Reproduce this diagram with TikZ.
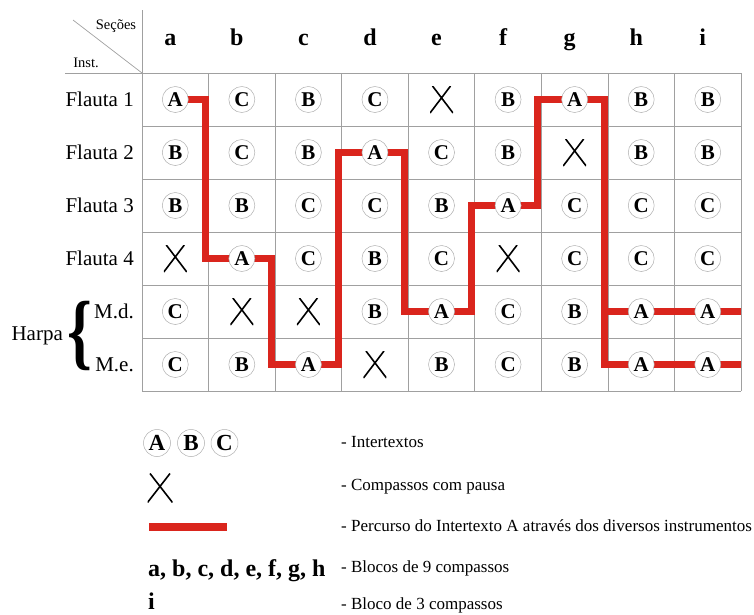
\documentclass[tikz,border=0pt]{standalone}
\usepackage{fontspec}
\setmainfont{Liberation Serif}
\usepackage{graphicx}
\usepackage{tikz}
\usetikzlibrary{positioning}
\definecolor{pathred}{RGB}{218,37,29}
\definecolor{linegray}{RGB}{160,160,160}
\definecolor{ringgray}{RGB}{175,175,175}
\pgfdeclarelayer{background}
\pgfsetlayers{background,main}
\tikzset{
  grade/.style={draw=linegray, line width=0.7pt},
  intertexto/.style={circle, draw=ringgray, line width=0.5pt, fill=white,
                     minimum size=26pt, inner sep=0pt,
                     font=\fontsize{21}{21}\selectfont\bfseries},
  pausa/.style={minimum width=23pt, minimum height=27pt, inner sep=0pt,
                path picture={\draw[line width=1.6pt]
                  ([xshift=2.5pt]path picture bounding box.north west) -- (path picture bounding box.south east)
                  (path picture bounding box.south west) -- ([xshift=-2.5pt]path picture bounding box.north east);}},
  percurso/.style={draw=pathred, line width=7pt},
  secao/.style={font=\fontsize{24}{24}\selectfont\bfseries, anchor=base},
  inst/.style={font=\fontsize{21}{21}\selectfont, anchor=east, inner sep=1pt},
  legenda/.style={font=\fontsize{17}{17}\selectfont, anchor=base west, inner sep=0pt}
}

\begin{document}
\begin{tikzpicture}[x=1pt, y=-1pt]
  \useasboundingbox (0,0) rectangle (754,614);

  % cabecalho
  \node[font=\fontsize{14.5}{14.5}\selectfont] (secoes) at (116,26) {Seções};
  \node[font=\fontsize{14.5}{14.5}\selectfont] (inst) at (86,63) {Inst.};
  \foreach \s [count=\k] in {a,...,i}
    \node[secao] (s-\s) at ({142+66.56*(\k-0.5)-5},45) {\s};

  % instrumentos
  \foreach \nome [count=\r] in {Flauta 1,Flauta 2,Flauta 3,Flauta 4,M.d.,M.e.}
    \node[inst] (i-\r) at (135,{73+53*(\r-0.5)}) {\nome};
  \node[font=\fontsize{84}{84}\selectfont\bfseries] (chave) at (80,336) {\scalebox{0.75}[1]{\{}};
  \node[inst, left=0pt of chave] (harpa) {Harpa};

  % celulas
  \foreach \linha/\conteudo in {1/{A,C,B,C,X,B,A,B,B}, 2/{B,C,B,A,C,B,X,B,B},
                                3/{B,B,C,C,B,A,C,C,C}, 4/{X,A,C,B,C,X,C,C,C},
                                5/{C,X,X,B,A,C,B,A,A}, 6/{C,B,A,X,B,C,B,A,A}} {
    \foreach \marca [count=\col] in \conteudo {
      \pgfmathsetmacro\cx{142+66.56*(\col-0.5)}
      \pgfmathsetmacro\cy{73+53*(\linha-0.5)}
      \if X\marca
        \node[pausa] (c-\linha-\col) at (\cx,\cy) {};
      \else
        \node[intertexto] (c-\linha-\col) at (\cx,\cy) {\marca};
      \fi
    }
  }

  \foreach \k in {1,...,7}
    \coordinate (v\k) at ({142+66.56*\k-3.5},0);
  \coordinate (fim) at (741,0);

  \begin{pgfonlayer}{background}
    \draw[grade] (73,20) -- (142,73);
    \draw[grade] (65,73) -- (741,73);
    \draw[grade] (142,10) -- (142,391);
    \foreach \r in {1,...,6}
      \draw[grade] (142,{73+53*\r}) -- (741,{73+53*\r});
    \foreach \k in {1,...,9}
      \draw[grade] ({142+66.56*\k},73) -- ({142+66.56*\k},391);
    % percurso do A
    \draw[percurso] (c-1-1.center) -| (v1 |- c-4-2.center) -- (c-4-2.center)
      -| (v2 |- c-6-3.center) -- (c-6-3.center)
      -| (v3 |- c-2-4.center) -- (c-2-4.center)
      -| (v4 |- c-5-5.center) -- (c-5-5.center)
      -| (v5 |- c-3-6.center) -- (c-3-6.center)
      -| (v6 |- c-1-7.center) -- (c-1-7.center)
      -| (v7 |- c-6-8.center) -- (fim |- c-6-8.center);
    \draw[percurso] (v7 |- c-5-8.center) -- (fim |- c-5-8.center);
  \end{pgfonlayer}

  % legenda
  \node[intertexto, minimum size=27pt, font=\fontsize{23}{23}\selectfont\bfseries] (leg-a) at (157,443) {A};
  \node[intertexto, minimum size=27pt, font=\fontsize{23}{23}\selectfont\bfseries] (leg-b) at (191,443) {B};
  \node[intertexto, minimum size=27pt, font=\fontsize{23}{23}\selectfont\bfseries] (leg-c) at (224.5,443) {C};
  \node[pausa, minimum width=25pt, minimum height=29pt] (leg-x) at (160,488) {};
  \coordinate (barra-i) at (149,527);
  \coordinate (barra-f) at (227,527);
  \draw[percurso, line width=8pt] (barra-i) -- (barra-f);
  \node[secao, anchor=base west, inner sep=0pt] (leg-blocos) at (148,576) {a, b, c, d, e, f, g, h};
  \node[secao, anchor=base west, inner sep=0pt] (leg-i) at (148,609) {i};

  \node[legenda] (t-inter) at (341,447) {- Intertextos};
  \node[legenda] (t-pausa) at (341,490) {- Compassos com pausa};
  \node[legenda] (t-perc) at (341,531) {- Percurso do Intertexto A através dos diversos instrumentos};
  \node[legenda] (t-nove) at (341,572) {- Blocos de 9 compassos};
  \node[legenda] (t-tres) at (341,609) {- Bloco de 3 compassos};
\end{tikzpicture}
\end{document}
